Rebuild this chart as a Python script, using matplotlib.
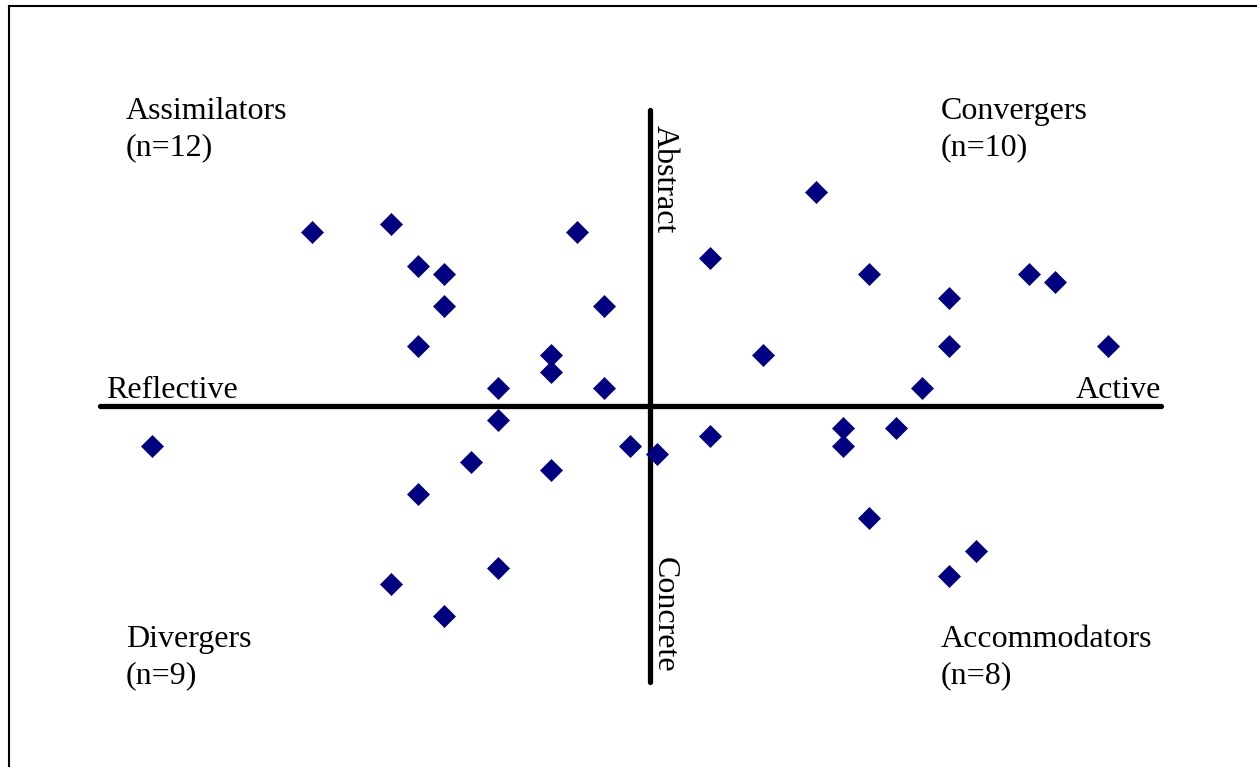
import matplotlib
matplotlib.use('Agg')
import matplotlib.pyplot as plt
from matplotlib.lines import Line2D

# ===== DATA PART =====
# processing scores: reflective (-) <-> active (+)
active_reflective = [-13, -10, -9, -8, -8, -9, -3, -2, -4, -4, -6, -2,
                     6, 2, 8, 11, 14, 15, 17, 11, 4, 10,
                     -19, -6, -1, -7, -4, -9, -6, -10, -8,
                     0, 2, 7, 7, 9, 8, 12, 11]
# perception scores: concrete (-) <-> abstract (+)
abstract_concrete = [21.75, 22.75, 17.5, 16.5, 12.5, 7.5, 21.75, 12.5, 6.4, 4.25, 2.25, 2.25,
                     26.75, 18.5, 16.5, 13.5, 16.5, 15.5, 7.5, 7.5, 6.4, 2.25,
                     -5.0, -1.75, -5.0, -7.0, -8.0, -11.0, -20.25, -22.25, -26.25,
                     -6.0, -3.75, -2.75, -5.0, -2.75, -14.0, -18.1, -21.25]

quadrant_names = ['Assimilators', 'Convergers', 'Divergers', 'Accommodators']
quadrant_counts = [12, 10, 9, 8]
# ===== DATA PART =====

X_SPLIT = -0.26
Y_SPLIT = 0.0


def run():
    plt.rcParams['font.family'] = ['Liberation Serif', 'DejaVu Serif']
    fig = plt.figure(figsize=(12.57, 7.67), dpi=100)
    ax = fig.add_axes([0, 0, 1, 1])
    ax.set_xlim(-24.74, 22.60)
    ax.set_ylim(-45.125, 50.75)
    ax.axis('off')

    # outer frame (only top and left edges are visible)
    fig.add_artist(Line2D([9 / 1257, 1], [1 - 6 / 767, 1 - 6 / 767],
                          transform=fig.transFigure, color='black', lw=1.5))
    fig.add_artist(Line2D([9 / 1257, 9 / 1257], [0, 1 - 6 / 767],
                          transform=fig.transFigure, color='black', lw=1.5))

    # quadrant axes
    ax.plot([-20.96, 18.97], [Y_SPLIT, Y_SPLIT], color='black', lw=3.8,
            solid_capstyle='round', zorder=2)
    ax.plot([X_SPLIT, X_SPLIT], [-34.56, 37.0], color='black', lw=3.8,
            solid_capstyle='round', zorder=2)

    ax.plot(active_reflective, abstract_concrete, linestyle='none', marker='D',
            markersize=11.4, color='#000080', markeredgecolor='#000080',
            markeredgewidth=0.5, zorder=3)

    fs = 23
    ax.text(0.0843, 0.4811, 'Reflective', transform=ax.transAxes, fontsize=fs,
            ha='left', va='baseline')
    ax.text(0.9236, 0.4811, 'Active', transform=ax.transAxes, fontsize=fs,
            ha='right', va='baseline')
    ax.text(X_SPLIT + 0.26, 35.1, 'Abstract', fontsize=fs, rotation=-90,
            rotation_mode='anchor', ha='left', va='baseline')
    ax.text(X_SPLIT + 0.26, -18.9, 'Concrete', fontsize=fs, rotation=-90,
            rotation_mode='anchor', ha='left', va='baseline')

    label_pos = [(0.1002, 0.8449), (0.7486, 0.8449), (0.1002, 0.1565), (0.7486, 0.1565)]
    for name, n, (lx, ly) in zip(quadrant_names, quadrant_counts, label_pos):
        ax.text(lx, ly, name, transform=ax.transAxes, fontsize=fs,
                ha='left', va='baseline')
        ax.text(lx, ly - 0.0475, '(n=%d)' % n, transform=ax.transAxes, fontsize=fs,
                ha='left', va='baseline')

    fig.savefig('out.png', dpi=100, facecolor='white')


if __name__ == '__main__':
    run()
